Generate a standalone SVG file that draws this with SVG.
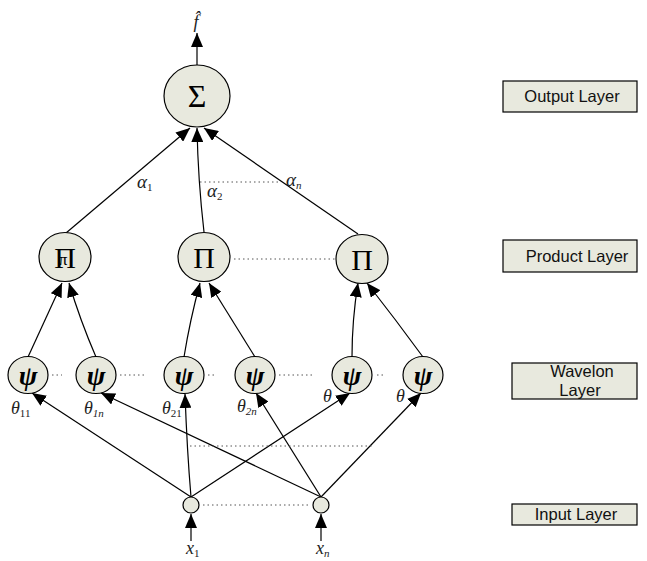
<svg xmlns="http://www.w3.org/2000/svg" width="647" height="561" viewBox="0 0 647 561">
<style>
.node{fill:#E8E9DE;stroke:#000;stroke-width:1.2}
.edge{fill:none;stroke:#000;stroke-width:1.2;marker-end:url(#ah)}
.dot{fill:none;stroke:#555;stroke-width:1;stroke-dasharray:1.5 3}
.sym{font-family:"Liberation Serif",serif;fill:#000;text-anchor:middle}
.psi{font-family:"Liberation Serif",serif;fill:#000;text-anchor:middle;font-style:italic;font-weight:bold;font-size:28px}
.it{font-family:"Liberation Serif",serif;font-style:italic;fill:#222}
.box{fill:#E8E9DE;stroke:#000;stroke-width:1.2}
.lbl{font-family:"Liberation Sans",Arial,sans-serif;font-size:16.5px;fill:#111;text-anchor:middle}
</style>
<defs>
<marker id="ah" viewBox="0 0 14 12" refX="14" refY="6" markerWidth="14" markerHeight="12" orient="auto" markerUnits="userSpaceOnUse"><path d="M0,0 L14,6 L0,12 z" fill="#000"/></marker>
</defs>
<g id="connectors">
<path class="edge" d="M197,65 L197,33"/>
<path class="edge" d="M66,233 L190,128"/>
<path class="edge" d="M204,232 Q198,180 197,128"/>
<path class="edge" d="M358,234 L204,128"/>
<path class="edge" d="M28,357 L62,283"/>
<path class="edge" d="M96,357 Q80,320 69,283"/>
<path class="edge" d="M184,357 Q190,320 200,283"/>
<path class="edge" d="M255,357 Q232,320 209,283"/>
<path class="edge" d="M352,357 Q352,320 358,283"/>
<path class="edge" d="M423,357 Q396,320 367,283"/>
<path class="edge" d="M191,497 L32,393"/>
<path class="edge" d="M191,497 Q187,450 185,394"/>
<path class="edge" d="M191,497 L350,393"/>
<path class="edge" d="M321,497 L101,393"/>
<path class="edge" d="M321,497 L256,393"/>
<path class="edge" d="M321,497 L421,393"/>
<path class="edge" d="M191,541 L191,514"/>
<path class="edge" d="M321,541 L321,514"/>
<path class="dot" d="M200,182 L280,182"/>
<path class="dot" d="M234,259 L335,259"/>
<path class="dot" d="M52,375 L62,375"/>
<path class="dot" d="M120,375 L144,375"/>
<path class="dot" d="M208,375 L216,375"/>
<path class="dot" d="M279,375 L312,375"/>
<path class="dot" d="M377,375 L384,375"/>
<path class="dot" d="M190,446 L372,446"/>
<path class="dot" d="M203,505 L310,505"/>
</g>
<g id="sum">
<ellipse class="node" cx="197" cy="96" rx="33" ry="31"/>
<text class="sym" x="197" y="107" font-size="32">Σ</text>
</g>
<g id="prod1">
<ellipse class="node" cx="65" cy="257" rx="26" ry="24.5"/>
<text class="sym" x="65" y="268" font-size="30">Π</text>
<text class="sym" x="63" y="265" font-size="17">π</text>
</g>
<g id="prod2">
<ellipse class="node" cx="204" cy="257" rx="26" ry="24.5"/>
<text class="sym" x="204" y="268" font-size="30">Π</text>
</g>
<g id="prod3">
<ellipse class="node" cx="362" cy="259" rx="26" ry="24.5"/>
<text class="sym" x="362" y="270" font-size="30">Π</text>
</g>
<g id="w1"><ellipse class="node" cx="28" cy="375" rx="20" ry="18.5"/><text class="psi" x="28" y="385">ψ</text></g>
<g id="w2"><ellipse class="node" cx="96" cy="375" rx="20" ry="18.5"/><text class="psi" x="96" y="385">ψ</text></g>
<g id="w3"><ellipse class="node" cx="184" cy="375" rx="20" ry="18.5"/><text class="psi" x="184" y="385">ψ</text></g>
<g id="w4"><ellipse class="node" cx="255" cy="375" rx="20" ry="18.5"/><text class="psi" x="255" y="385">ψ</text></g>
<g id="w5"><ellipse class="node" cx="352" cy="375" rx="20" ry="18.5"/><text class="psi" x="352" y="385">ψ</text></g>
<g id="w6"><ellipse class="node" cx="423" cy="375" rx="20" ry="18.5"/><text class="psi" x="423" y="385">ψ</text></g>
<g id="in1"><circle class="node" cx="191" cy="505" r="8"/></g>
<g id="inn"><circle class="node" cx="321" cy="505" r="8"/></g>
<g id="labels">
<text class="it" x="196" y="28" font-size="18" text-anchor="middle">f̂</text>
<text class="it" x="137" y="188" font-size="19">α<tspan font-size="11" font-style="normal" dy="3">1</tspan></text>
<text class="it" x="207" y="197" font-size="19">α<tspan font-size="11" font-style="normal" dy="3">2</tspan></text>
<text class="it" x="286" y="186" font-size="19">α<tspan font-size="11" dy="3">n</tspan></text>
<text class="it" x="11" y="414" font-size="18">θ<tspan font-size="11" font-style="normal" dy="3">11</tspan></text>
<text class="it" x="84" y="414" font-size="18">θ<tspan font-size="11" dy="3">1n</tspan></text>
<text class="it" x="162" y="414" font-size="18">θ<tspan font-size="11" font-style="normal" dy="3">21</tspan></text>
<text class="it" x="237" y="412" font-size="18">θ<tspan font-size="11" dy="3">2n</tspan></text>
<text class="it" x="323" y="402" font-size="18">θ</text>
<text class="it" x="396" y="402" font-size="18">θ</text>
<text class="it" x="186" y="554" font-size="18">x<tspan font-size="11" font-style="normal" dy="3">1</tspan></text>
<text class="it" x="316" y="554" font-size="18">x<tspan font-size="11" dy="3">n</tspan></text>
</g>
<g id="legend-output"><rect class="box" x="503" y="81" width="134" height="31"/><text class="lbl" x="572" y="102">Output Layer</text></g>
<g id="legend-product"><rect class="box" x="503" y="240" width="134" height="32"/><text class="lbl" x="577" y="262">Product Layer</text></g>
<g id="legend-wavelon"><rect class="box" x="512" y="363" width="125" height="36"/><text class="lbl" x="582" y="377">Wavelon</text><text class="lbl" x="580" y="396">Layer</text></g>
<g id="legend-input"><rect class="box" x="512" y="504" width="125" height="21"/><text class="lbl" x="576" y="520">Input Layer</text></g>
</svg>
